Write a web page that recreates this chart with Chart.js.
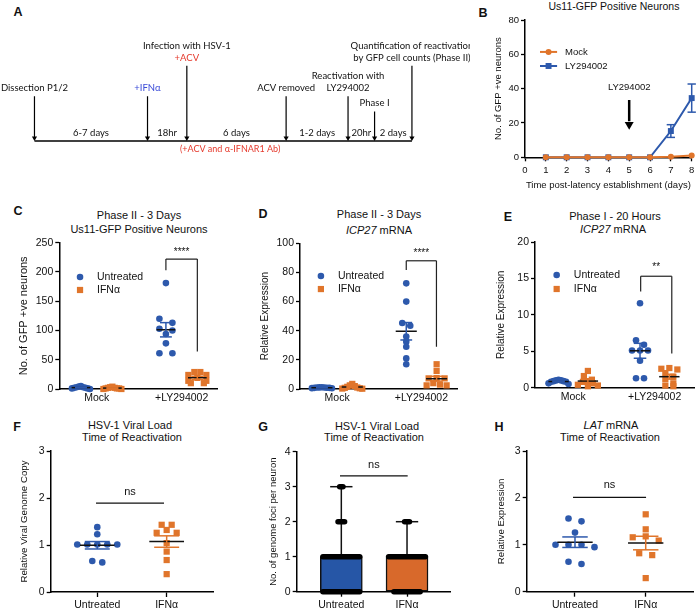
<!DOCTYPE html>
<html>
<head>
<meta charset="utf-8">
<script src="https://cdn.jsdelivr.net/npm/chart.js@4.4.1/dist/chart.umd.min.js"></script>
<style>
  body { margin: 0; background: #fff; }
  #fig { position: relative; width: 698px; height: 612px; overflow: hidden; font-family: "Liberation Sans", Arial, sans-serif; color: #111; }
  .t { position: absolute; transform: translate(-50%, -50%); white-space: nowrap; font-size: 11px; line-height: 1; }
  .p { position: absolute; transform: translate(-50%, -50%); font-weight: bold; font-size: 12.5px; line-height: 1; }
  canvas { position: absolute; }
</style>
</head>
<body>
<div id="fig">
  <div class="p" style="left:18px;top:12px">A</div>
  <div class="p" style="left:483px;top:13px">B</div>
  <div class="p" style="left:18px;top:211px">C</div>
  <div class="p" style="left:263px;top:214px">D</div>
  <div class="p" style="left:508px;top:217px">E</div>
  <div class="p" style="left:17px;top:427px">F</div>
  <div class="p" style="left:263px;top:427px">G</div>
  <div class="p" style="left:499px;top:427px">H</div>

  <div class="t" style="left:614px;top:6px;font-size:10.5px">Us11-GFP Positive Neurons</div>
  <div class="t" style="left:139px;top:215px">Phase II - 3 Days</div>
  <div class="t" style="left:139px;top:229px">Us11-GFP Positive Neurons</div>
  <div class="t" style="left:379px;top:214px">Phase II - 3 Days</div>
  <div class="t" style="left:379px;top:230px"><i>ICP27</i> mRNA</div>
  <div class="t" style="left:615px;top:216px">Phase I - 20 Hours</div>
  <div class="t" style="left:613px;top:229px"><i>ICP27</i> mRNA</div>
  <div class="t" style="left:130px;top:425px">HSV-1 Viral Load</div>
  <div class="t" style="left:132px;top:437px">Time of Reactivation</div>
  <div class="t" style="left:377px;top:426px">HSV-1 Viral Load</div>
  <div class="t" style="left:374px;top:437px">Time of Reactivation</div>
  <div class="t" style="left:611px;top:425px"><i>LAT</i> mRNA</div>
  <div class="t" style="left:610px;top:437px">Time of Reactivation</div>
</div>
<script>
// ---------- data ----------

// A: experimental timeline (schematic positions along the bar, arrow heights)
const aEventPos = [31, 146, 186, 287, 350, 377, 415];
const aEventHeight = [47, 47, 79, 47, 47, 31, 79];
const aEventText = [
  ['Dissection P1/2'],
  ['+IFNα'],
  ['+ACV', 'Infection with HSV-1'],
  ['ACV removed'],
  ['LY294002', 'Reactivation with'],
  ['Phase I'],
  ['by GFP cell counts (Phase II)', 'Quantification of reactivation']
];
const aIntervals = ['6-7 days', '18hr', '6 days', '1-2 days', '20hr', '2 days'];
const aNote = '(+ACV and α-IFNAR1 Ab)';

// B: Us11-GFP positive neurons over time
const bDays = [1, 2, 3, 4, 5, 6, 7, 8];
const bMock = [0, 0, 0, 0, 0, 0, 0.3, 1];
const bLy = [0, 0, 0, 0, 0, 0, 15.3, 34.5];
const bLySem = [0, 0, 0, 0, 0, 0, 3.7, 8.2];

// C, D, E: Mock vs +LY294002, untreated vs IFNα
const groupCats = ['Mock', '+LY294002'];
const cUntreated = [[5, 4, 3, 3, 2, 2, 1, 1, 0], [181, 120, 113, 103, 100, 94, 78, 61, 61]];
const cIfn = [[4, 3, 2, 2, 1, 1, 1, 0, 0], [29, 29, 24, 24, 19, 14, 14, 10, 10]];
const dUntreated = [[1.2, 1.1, 1, 1, 0.9, 0.8, 0.8, 0.6, 0.5], [72.5, 60, 45.3, 43.4, 36, 32.5, 29, 21, 17]];
const dIfn = [[3.5, 2.5, 2, 1.5, 1, 0.8, 0.5, 0.3, 0.2], [17, 12.4, 7.5, 7.3, 7.3, 4, 3, 2.5, 2.5]];
const eUntreated = [[1.1, 1.0, 1.0, 0.9, 0.9, 0.8, 0.8, 0.6, 0.5], [11.6, 6.5, 5.9, 5.1, 5.1, 5.1, 3.7, 1.3, 1.3]];
const eIfn = [[2.3, 1.6, 1.1, 0.9, 0.8, 0.6, 0.4, 0.3, 0.2], [2.7, 2.6, 2.5, 2.0, 1.5, 1.2, 0.6, 0.3, 0.2]];

// F, G, H: untreated vs IFNα at time of reactivation
const treatCats = ['Untreated', 'IFNα'];
const fValues = [[1.38, 1.23, 1.01, 1.01, 1.01, 1.01, 1.01, 0.66, 0.63], [1.43, 1.43, 1.32, 1.26, 1.26, 1.04, 0.86, 0.68, 0.38]];
const hValues = [[1.56, 1.50, 1.26, 1.0, 1.0, 1.0, 0.95, 0.64, 0.59], [1.65, 1.33, 1.18, 1.16, 1.09, 0.82, 0.78, 0.29]];
const gQ1 = [0, 0];
const gQ3 = [1, 1];
const gMax = [3, 2];
const gPointValues = [[0, 1, 2, 3], [0, 1, 2]];
const gPointCounts = [[40, 40, 4, 2], [16, 40, 3]];

// ---------- style ----------
const BLUE = '#2D59AC', ORANGE = '#E0752B';
const BOX_BLUE = '#2656A6', BOX_ORANGE = '#D8692B';
const INK = '#111', RED = '#E5392C', IFN_BLUE = '#3A4BD8';
const FONT = '"Liberation Sans", Arial, sans-serif';
Chart.defaults.font.family = FONT;
Chart.defaults.color = INK;
Chart.defaults.animation = false;
Chart.defaults.plugins.legend.display = false;
Chart.defaults.plugins.tooltip.enabled = false;

const fig = document.getElementById('fig');

function stats(v) {
  const n = v.length, m = v.reduce((a, b) => a + b, 0) / n;
  const sd = Math.sqrt(v.reduce((a, b) => a + (b - m) ** 2, 0) / (n - 1));
  return { mean: m, sem: sd / Math.sqrt(n) };
}

function seg(x1, y1, x2, y2, color, width, extra) {
  return Object.assign({
    data: [{ x: x1, y: y1 }, { x: x2, y: y2 }],
    showLine: true, borderColor: color, borderWidth: width,
    pointRadius: 0, fill: false, order: 0, clip: false, borderCapStyle: 'butt'
  }, extra || {});
}

function marker(x, y, style, color, r, extra) {
  return Object.assign({
    data: [{ x, y }], pointStyle: style, pointRadius: r,
    pointBackgroundColor: color, pointBorderColor: color, pointBorderWidth: 0,
    order: 1, clip: false
  }, extra || {});
}

// text drawn through the chart's scales
function notes(items) {
  return {
    id: 'notes',
    afterDatasetsDraw(chart) {
      const { ctx, scales: { x, y } } = chart;
      ctx.save();
      items.forEach(it => {
        ctx.font = `${it.italic ? 'italic ' : ''}${it.size || 10.5}px ${it.family || FONT}`;
        ctx.fillStyle = it.color || INK;
        ctx.textAlign = it.align || 'center';
        ctx.textBaseline = 'middle';
        ctx.fillText(it.text, x.getPixelForValue(it.x), y.getPixelForValue(it.y));
      });
      ctx.restore();
    }
  };
}

// simple GraphPad-like scatter: points at about the same height are spread in a row
function swarm(chart, rowTol) {
  const xs = chart.scales.x, ys = chart.scales.y;
  chart.data.datasets.forEach(ds => {
    if (!ds.swarm) return;
    const { center, values, gap, maxHalf } = ds.swarm;
    const cx = xs.getPixelForValue(center);
    const idx = values.map((v, i) => i).sort((a, b) => values[b] - values[a]);
    const off = new Array(values.length).fill(0);
    let i = 0;
    while (i < idx.length) {
      const y0 = ys.getPixelForValue(values[idx[i]]);
      let j = i + 1;
      while (j < idx.length && Math.abs(ys.getPixelForValue(values[idx[j]]) - y0) < rowTol) j++;
      const n = j - i;
      const step = n > 1 ? Math.min(gap, 2 * maxHalf / (n - 1)) : 0;
      // centre-out slots
      const slots = [];
      if (n % 2) { slots.push(0); for (let k = 1; slots.length < n; k++) { slots.push(-k, k); } }
      else { for (let k = 0.5; slots.length < n; k++) { slots.push(-k, k); } }
      for (let k = 0; k < n; k++) off[idx[i + k]] = slots[k] * step;
      i = j;
    }
    ds.data = values.map((v, k) => ({ x: xs.getValueForPixel(cx + off[k]), y: v }));
  });
  chart.update('none');
}

function yAxis(min, max, step, title, tsize, fsize) {
  return {
    type: 'linear', position: 'left', min, max,
    ticks: { stepSize: step, font: { size: fsize || 10.5 }, color: INK, padding: 2 },
    grid: { drawOnChartArea: false, tickLength: 4, tickColor: '#000', tickWidth: 1.3 },
    border: { color: '#000', width: 1.5 },
    title: { display: true, text: title, font: { size: tsize, lineHeight: 1.2 }, color: INK, padding: 0 }
  };
}

function catAxis(min, max, labels, tickLen) {
  return {
    type: 'linear', position: 'bottom', min, max, offset: false,
    afterBuildTicks: s => { s.ticks = labels.map((l, i) => ({ value: i + 1 })); },
    ticks: { font: { size: 10.5 }, color: INK, padding: tickLen ? 2 : 3, callback: v => labels[v - 1] || '' },
    grid: tickLen
      ? { drawOnChartArea: false, tickLength: tickLen, tickColor: '#000', tickWidth: 1.3, offset: false }
      : { display: false, drawTicks: false, offset: false },
    border: { color: '#000', width: 1.5 }
  };
}

// canvas placed so that the plot area lands on box {l,t,r,b}
function panel(box, config) {
  const left = box.cl;
  const top = Math.round(box.t - box.padTop);
  const w = Math.ceil(box.r + box.padRight - left);
  const h = Math.ceil(box.b + box.xH - top);
  const c = document.createElement('canvas');
  c.width = w; c.height = h;
  c.style.left = left + 'px'; c.style.top = top + 'px';
  c.style.width = w + 'px'; c.style.height = h + 'px';
  fig.appendChild(c);
  const o = config.options;
  o.responsive = false;
  o.devicePixelRatio = 1;
  o.layout = { padding: { left: 0, top: box.t - top, right: w - (box.r - left), bottom: 0 } };
  if (o.scales.y.display !== false) o.scales.y.afterFit = s => { s.width = box.l - left; };
  if (o.scales.x.display !== false) o.scales.x.afterFit = s => { s.height = h - (box.b - top); };
  return new Chart(c, config);
}

// ---------- A: timeline ----------
(function () {
  const ds = [seg(aEventPos[0], 0, aEventPos[aEventPos.length - 1], 0, '#000', 1.5)];
  const items = [];
  aEventPos.forEach((x, i) => {
    ds.push(seg(x, aEventHeight[i], x, 4, '#000', 1.2));
    ds.push(marker(x, 3.2, 'triangle', '#000', 3, { rotation: 180 }));
    aEventText[i].forEach((txt, k) => {
      let color = INK;
      if (txt === '+IFNα') color = IFN_BLUE;
      if (txt === '+ACV') color = RED;
      items.push({ x, y: aEventHeight[i] + 8.5 + k * 12.5, text: txt, size: 9.5, family: 'Lato, ' + FONT, color });
    });
  });
  aIntervals.forEach((txt, i) => {
    items.push({ x: (aEventPos[i] + aEventPos[i + 1]) / 2, y: 9, text: txt, size: 9.5, family: 'Lato, ' + FONT });
  });
  items.push({ x: 230, y: -8, text: aNote, size: 9, family: 'Lato, ' + FONT, color: RED });
  const c = document.createElement('canvas');
  c.width = 470; c.height = 165;
  c.style.left = '0px'; c.style.top = '0px'; c.style.width = '470px'; c.style.height = '165px';
  fig.appendChild(c);
  new Chart(c, {
    type: 'scatter',
    data: { datasets: ds },
    options: {
      responsive: false, devicePixelRatio: 1, layout: { padding: 0 },
      scales: { x: { display: false, min: 0, max: 470 }, y: { display: false, min: -21, max: 144 } }
    },
    plugins: [notes(items)]
  });
})();

// ---------- B: time course ----------
(function () {
  const ds = [];
  ds.push({
    data: bDays.map((d, i) => ({ x: d, y: bLy[i] })), showLine: true,
    borderColor: BLUE, borderWidth: 2, pointStyle: 'rect', pointRadius: 4.2,
    pointBackgroundColor: BLUE, pointBorderWidth: 0, order: 4, clip: false
  });
  ds.push({
    data: bDays.map((d, i) => ({ x: d, y: bMock[i] })), showLine: true,
    borderColor: ORANGE, borderWidth: 2, pointStyle: 'circle', pointRadius: 3,
    pointBackgroundColor: ORANGE, pointBorderWidth: 0, order: 3, clip: false
  });
  bDays.forEach((d, i) => {
    if (!bLySem[i]) return;
    const lo = bLy[i] - bLySem[i], hi = bLy[i] + bLySem[i];
    ds.push(seg(d, lo, d, hi, BLUE, 1.5, { order: 2 }));
    ds.push(seg(d - 0.2, hi, d + 0.2, hi, BLUE, 1.5, { order: 2 }));
    ds.push(seg(d - 0.2, lo, d + 0.2, lo, BLUE, 1.5, { order: 2 }));
  });
  // legend
  ds.push(seg(0.72, 61.4, 1.54, 61.4, ORANGE, 2));
  ds.push(marker(1.13, 61.4, 'circle', ORANGE, 3));
  ds.push(seg(0.72, 53.2, 1.54, 53.2, BLUE, 2));
  ds.push(marker(1.13, 53.2, 'rect', BLUE, 4.2));
  // LY294002 addition arrow
  ds.push(seg(5, 33.4, 5, 21, '#000', 2.5));
  ds.push(marker(5, 19.1, 'triangle', '#000', 5.2, { rotation: 180 }));
  const items = [
    { x: 1.92, y: 61.4, text: 'Mock', align: 'left', size: 9.5 },
    { x: 1.92, y: 53.2, text: 'LY294002', align: 'left', size: 9.5 },
    { x: 5, y: 40.5, text: 'LY294002', size: 9.5 }
  ];
  const x = {
    type: 'linear', position: 'bottom', min: 0, max: 8,
    ticks: { stepSize: 1, font: { size: 9.5 }, color: INK, padding: 3 },
    grid: { drawOnChartArea: false, tickLength: 4, tickColor: '#000', tickWidth: 1.3 },
    border: { color: '#000', width: 1.5 },
    title: { display: true, text: 'Time post-latency establishment (days)', font: { size: 9.5, lineHeight: 1.2 }, color: INK, padding: 0 }
  };
  panel({ cl: 493, l: 525, t: 20, r: 691.7, b: 157.3, padTop: 14, padRight: 7, xH: 33.4 }, {
    type: 'scatter', data: { datasets: ds },
    options: { scales: { x, y: yAxis(0, 80, 20, 'No. of GFP +ve neurons', 9.5, 9.5) } },
    plugins: [notes(items)]
  });
})();

// ---------- C, D, E: grouped dot plots ----------
function groupedPlot(p) {
  const ds = [];
  const items = [];
  const sets = [[p.untreated, -p.shift, BLUE, 'circle', 3.3], [p.ifn, p.shift, ORANGE, 'rect', 4.4]];
  groupCats.forEach((cat, ci) => {
    sets.forEach(([vals, dx, color, style, r]) => {
      const xc = ci + 1 + dx, v = vals[ci];
      const s = stats(v);
      ds.push({
        data: v.map(y => ({ x: xc, y })), swarm: { center: xc, values: v, gap: p.gap, maxHalf: p.maxHalf },
        pointStyle: style, pointRadius: r, pointBackgroundColor: color, pointBorderWidth: 0, order: 5, clip: false
      });
      ds.push(seg(xc - p.meanHalf, s.mean, xc + p.meanHalf, s.mean, INK, 1.5, { order: 1 }));
      ds.push(seg(xc, s.mean - s.sem, xc, s.mean + s.sem, color, 1.5, { order: 0 }));
      ds.push(seg(xc - p.capHalf, s.mean + s.sem, xc + p.capHalf, s.mean + s.sem, color, 1.5, { order: 0 }));
      ds.push(seg(xc - p.capHalf, s.mean - s.sem, xc + p.capHalf, s.mean - s.sem, color, 1.5, { order: 0 }));
    });
  });
  const bk = p.bracket;
  ds.push(seg(bk.x1, bk.top, bk.x2, bk.top, '#222', 1.2));
  ds.push(seg(bk.x1, bk.top, bk.x1, bk.y1, '#222', 1.2));
  ds.push(seg(bk.x2, bk.top, bk.x2, bk.y2, '#222', 1.2));
  items.push({ x: (bk.x1 + bk.x2) / 2, y: bk.starY, text: bk.stars, size: 10 });
  const lg = p.legend;
  ds.push(marker(lg.x, lg.y1, 'circle', BLUE, 3.3));
  ds.push(marker(lg.x, lg.y2, 'rect', ORANGE, 4.4));
  items.push({ x: lg.tx, y: lg.y1, text: 'Untreated', align: 'left' });
  items.push({ x: lg.tx, y: lg.y2, text: 'IFNα', align: 'left' });
  const chart = panel(p.box, {
    type: 'scatter', data: { datasets: ds },
    options: { scales: { x: catAxis(p.xMin, p.xMax, groupCats, 0), y: yAxis(0, p.yMax, p.yStep, p.yTitle, p.yTitleSize) } },
    plugins: [notes(items)]
  });
  swarm(chart, 5);
}

groupedPlot({
  box: { cl: 17, l: 59.3, t: 242.7, r: 217.3, b: 389, padTop: 12, padRight: 12, xH: 20 },
  untreated: cUntreated, ifn: cIfn, shift: 0.185, gap: 13, maxHalf: 9,
  meanHalf: 0.11, capHalf: 0.07, xMin: 0.56, xMax: 2.42,
  yMax: 250, yStep: 50, yTitle: 'No. of GFP +ve neurons', yTitleSize: 11,
  bracket: { x1: 1.815, x2: 2.185, top: 222, y1: 203, y2: 64, stars: '****', starY: 233 },
  legend: { x: 0.804, y1: 191.5, y2: 169.2, tx: 1.004 }
});

groupedPlot({
  box: { cl: 259, l: 300, t: 243.3, r: 457.7, b: 389, padTop: 12, padRight: 12, xH: 20 },
  untreated: dUntreated, ifn: dIfn, shift: 0.18, gap: 8, maxHalf: 10,
  meanHalf: 0.125, capHalf: 0.07, xMin: 0.56, xMax: 2.43,
  yMax: 100, yStep: 20, yTitle: 'Relative Expression', yTitleSize: 10,
  bracket: { x1: 1.82, x2: 2.178, top: 88, y1: 81.7, y2: 29, stars: '****', starY: 93 },
  legend: { x: 0.808, y1: 77.6, y2: 68.6, tx: 1.01 }
});

groupedPlot({
  box: { cl: 495, l: 535, t: 242, r: 695, b: 387.7, padTop: 12, padRight: 4, xH: 20 },
  untreated: eUntreated, ifn: eIfn, shift: 0.18, gap: 8, maxHalf: 10,
  meanHalf: 0.125, capHalf: 0.077, xMin: 0.531, xMax: 2.49,
  yMax: 20, yStep: 5, yTitle: 'Relative Expression', yTitleSize: 10,
  bracket: { x1: 1.828, x2: 2.21, top: 15.3, y1: 13.2, y2: 4.7, stars: '**', starY: 16.5 },
  legend: { x: 0.797, y1: 15.47, y2: 13.55, tx: 1.008 }
});

// ---------- F, H: two-group dot plots ----------
function pairPlot(p) {
  const ds = [];
  const looks = [[BLUE, 'circle', 3.3], [ORANGE, 'rect', 4.4]];
  treatCats.forEach((cat, ci) => {
    const [color, style, r] = looks[ci];
    const xc = ci + 1, v = p.values[ci], s = stats(v);
    ds.push({
      data: v.map(y => ({ x: xc, y })), swarm: { center: xc, values: v, gap: p.gap, maxHalf: 22 },
      pointStyle: style, pointRadius: r, pointBackgroundColor: color, pointBorderWidth: 0, order: 5, clip: false
    });
    ds.push(seg(xc - 0.25, s.mean, xc + 0.25, s.mean, INK, 1.5, { order: 1 }));
    ds.push(seg(xc, s.mean - s.sem, xc, s.mean + s.sem, color, 1.5, { order: 0 }));
    ds.push(seg(xc - 0.18, s.mean + s.sem, xc + 0.18, s.mean + s.sem, color, 1.5, { order: 0 }));
    ds.push(seg(xc - 0.18, s.mean - s.sem, xc + 0.18, s.mean - s.sem, color, 1.5, { order: 0 }));
  });
  ds.push(seg(p.ns.x1, p.ns.y, p.ns.x2, p.ns.y, '#111', 1.2));
  const chart = panel(p.box, {
    type: 'scatter', data: { datasets: ds },
    options: { scales: { x: catAxis(p.xMin, p.xMax, treatCats, 5), y: yAxis(0, 3, 1, p.yTitle, 9.7) } },
    plugins: [notes([{ x: (p.ns.x1 + p.ns.x2) / 2, y: p.ns.ty, text: 'ns', size: 11 }])]
  });
  swarm(chart, 5);
}

pairPlot({
  box: { cl: 19, l: 50.7, t: 451, r: 213.3, b: 592, padTop: 12, padRight: 12, xH: 20 },
  values: fValues, gap: 10, xMin: 0.329, xMax: 2.672, yTitle: 'Relative Viral Genome Copy',
  ns: { x1: 0.982, x2: 1.962, y: 1.89, ty: 2.13 }
});

pairPlot({
  box: { cl: 496, l: 526.7, t: 451, r: 693.3, b: 591.7, padTop: 12, padRight: 4, xH: 20 },
  values: hValues, gap: 13, xMin: 0.317, xMax: 2.673, yTitle: 'Relative Expression',
  ns: { x1: 0.972, x2: 2.005, y: 2.01, ty: 2.27 }
});

// ---------- G: box and whiskers ----------
(function () {
  const ds = [];
  ds.push({
    type: 'bar',
    data: treatCats.map((c, i) => ({ x: i + 1, y: [gQ1[i], gQ3[i]] })),
    backgroundColor: [BOX_BLUE, BOX_ORANGE], borderColor: '#111', borderWidth: 1.5,
    borderSkipped: false, barThickness: 42, order: 5
  });
  treatCats.forEach((c, i) => {
    const x = i + 1;
    ds.push(seg(x, gQ3[i], x, gMax[i], '#111', 1.5, { order: 2 }));
    ds.push(seg(x - 0.17, gMax[i], x + 0.17, gMax[i], '#111', 1.5, { order: 2 }));
    gPointValues[i].forEach((v, k) => {
      const w = Math.min(0.28, 0.0125 * gPointCounts[i][k]);
      ds.push(seg(x - w, v, x + w, v, '#000', 5.5, { order: 1, borderCapStyle: 'round' }));
    });
  });
  ds.push(seg(0.98, 3.31, 2.01, 3.31, '#111', 1.2));
  panel({ cl: 268, l: 296.7, t: 451.7, r: 450, b: 591.7, padTop: 12, padRight: 12, xH: 20 }, {
    type: 'scatter', data: { datasets: ds },
    options: { scales: { x: catAxis(0.321, 2.654, treatCats, 5), y: yAxis(0, 4, 1, 'No. of genome foci per neuron', 9.5) } },
    plugins: [notes([{ x: 1.495, y: 3.62, text: 'ns', size: 11 }])]
  });
})();
</script>
</body>
</html>
